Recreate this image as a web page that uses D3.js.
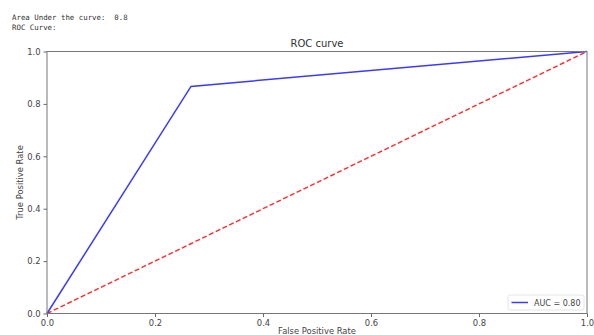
<!DOCTYPE html>
<html>
<head>
<meta charset="utf-8">
<script src="https://cdn.jsdelivr.net/npm/d3@7"></script>
<style>
  html, body { margin: 0; padding: 0; background: #fff; }
  svg { display: block; }
</style>
</head>
<body>
<svg id="chart" width="594" height="335"></svg>
<script>
// ROC curve points (false positive rate, true positive rate)
const fpr = [0, 0.2667, 1];
const tpr = [0, 0.8667, 1];
// chance line
const chanceX = [0, 1];
const chanceY = [0, 1];
const aucValue = 0.80;
const xTicks = [0, 0.2, 0.4, 0.6, 0.8, 1.0];
const yTicks = [0, 0.2, 0.4, 0.6, 0.8, 1.0];
const consoleLines = ["Area Under the curve:  0.8", "ROC Curve:"];

const svg = d3.select("#chart");
const plotLeft = 47, plotRight = 587, plotTop = 51.5, plotBottom = 313.5;

const x = d3.scaleLinear().domain([0, 1]).range([plotLeft, plotRight]);
const y = d3.scaleLinear().domain([0, 1]).range([plotBottom, plotTop]);

// printed output above the figure
svg.selectAll("text.console").data(consoleLines).enter().append("text")
  .attr("class", "console")
  .attr("x", 12)
  .attr("y", (d, i) => 19.5 + i * 10.5)
  .attr("font-family", "DejaVu Sans Mono, monospace")
  .attr("font-size", 7.4)
  .attr("fill", "#333")
  .attr("xml:space", "preserve")
  .text(d => d);

const line = d3.line().x(d => x(d[0])).y(d => y(d[1]));

// chance diagonal
svg.append("path")
  .datum(chanceX.map((v, i) => [v, chanceY[i]]))
  .attr("d", line)
  .attr("fill", "none")
  .attr("stroke", "#ff2a2a")
  .attr("stroke-width", 1.4)
  .attr("stroke-dasharray", "5,2.5");

// ROC curve
svg.append("path")
  .datum(fpr.map((v, i) => [v, tpr[i]]))
  .attr("d", line)
  .attr("fill", "none")
  .attr("stroke", "#3a3aff")
  .attr("stroke-width", 1.5);

// axes
const xAxis = svg.append("g")
  .attr("transform", `translate(0,${plotBottom})`)
  .call(d3.axisBottom(x).tickValues(xTicks).tickFormat(d3.format(".1f")).tickSizeOuter(0).tickSize(3.5).tickPadding(3));
const yAxis = svg.append("g")
  .attr("transform", `translate(${plotLeft},0)`)
  .call(d3.axisLeft(y).tickValues(yTicks).tickFormat(d3.format(".1f")).tickSizeOuter(0).tickSize(3.5).tickPadding(3));

[xAxis, yAxis].forEach(g => {
  g.select(".domain").remove();
  g.selectAll("line").attr("stroke", "#666");
  g.selectAll("text").attr("font-family", "DejaVu Sans, sans-serif").attr("font-size", 8.4).attr("fill", "#444");
});

// frame
svg.append("rect")
  .attr("x", plotLeft).attr("y", plotTop)
  .attr("width", plotRight - plotLeft).attr("height", plotBottom - plotTop)
  .attr("fill", "none")
  .attr("stroke", "#777")
  .attr("stroke-width", 1);

// title and axis labels
svg.append("text")
  .attr("x", (plotLeft + plotRight) / 2).attr("y", 47)
  .attr("text-anchor", "middle")
  .attr("font-family", "DejaVu Sans, sans-serif")
  .attr("font-size", 10)
  .attr("fill", "#333")
  .text("ROC curve");

svg.append("text")
  .attr("x", (plotLeft + plotRight) / 2).attr("y", 334)
  .attr("text-anchor", "middle")
  .attr("font-family", "DejaVu Sans, sans-serif")
  .attr("font-size", 8.4)
  .attr("fill", "#444")
  .text("False Positive Rate");

svg.append("text")
  .attr("transform", `translate(22.5,${(plotTop + plotBottom) / 2}) rotate(-90)`)
  .attr("text-anchor", "middle")
  .attr("font-family", "DejaVu Sans, sans-serif")
  .attr("font-size", 8.4)
  .attr("fill", "#444")
  .text("True Positive Rate");

// legend
const lg = svg.append("g").attr("transform", "translate(508,295)");
lg.append("rect")
  .attr("width", 76).attr("height", 15).attr("rx", 2)
  .attr("fill", "#fff").attr("stroke", "#ddd").attr("stroke-width", 0.8);
lg.append("line")
  .attr("x1", 3.5).attr("x2", 20).attr("y1", 7.5).attr("y2", 7.5)
  .attr("stroke", "#3a3aff").attr("stroke-width", 1.5);
lg.append("text")
  .attr("x", 26).attr("y", 10.5)
  .attr("font-family", "DejaVu Sans, sans-serif")
  .attr("font-size", 8)
  .attr("fill", "#444")
  .text(`AUC = ${aucValue.toFixed(2)}`);
</script>
</body>
</html>
